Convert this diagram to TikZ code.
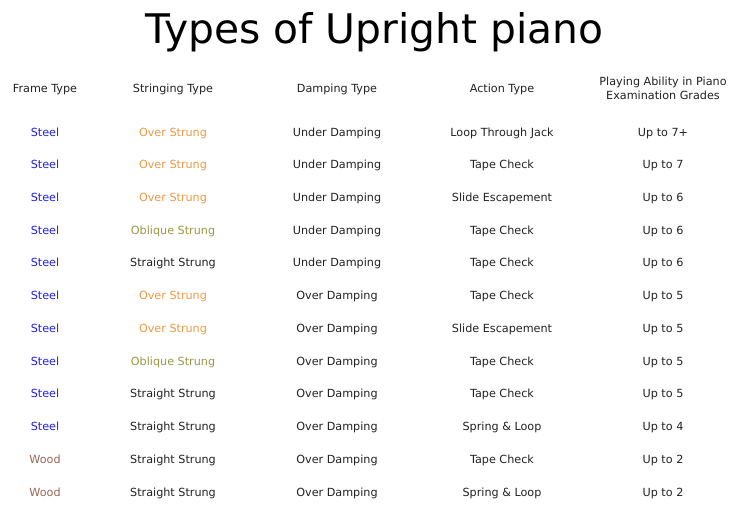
\documentclass[tikz,border=0pt]{standalone}
\usepackage{fontspec}
\setmainfont{DejaVu Sans}
\begin{document}
\begin{tikzpicture}[x=1pt,y=-1pt,
  cell/.style={inner sep=0pt,anchor=base,font=\fontsize{11.2}{14}\selectfont,text=txt,align=center},
  hdr/.style={cell},
  steel/.style={cell,text=steelc},
  wood/.style={cell,text=woodc},
  over/.style={cell,text=overc},
  obl/.style={cell,text=oblc}]
\definecolor{txt}{HTML}{222222}
\definecolor{steelc}{HTML}{2020F0}
\definecolor{woodc}{HTML}{996655}
\definecolor{overc}{HTML}{EE9944}
\definecolor{oblc}{HTML}{999944}
\useasboundingbox[fill=white] (0,0) rectangle (749,517);
\node[inner sep=0pt,anchor=base,font=\fontsize{40.8}{48}\selectfont] (title) at (374.5,43) {Types of Upright piano};
\node[hdr] (h1) at (45,92) {Frame Type};
\node[hdr] (h2) at (173,92) {Stringing Type};
\node[hdr] (h3) at (337,92) {Damping Type};
\node[hdr] (h4) at (502,92) {Action Type};
\node[hdr,anchor=north] (h5) at (663,77) {Playing Ability in Piano\\Examination Grades};
\foreach \i/\fs/\f/\ss/\s/\d/\a/\p in {
 1/steel/Steel/over/Over Strung/Under Damping/Loop Through Jack/Up to 7+,
 2/steel/Steel/over/Over Strung/Under Damping/Tape Check/Up to 7,
 3/steel/Steel/over/Over Strung/Under Damping/Slide Escapement/Up to 6,
 4/steel/Steel/obl/Oblique Strung/Under Damping/Tape Check/Up to 6,
 5/steel/Steel/cell/Straight Strung/Under Damping/Tape Check/Up to 6,
 6/steel/Steel/over/Over Strung/Over Damping/Tape Check/Up to 5,
 7/steel/Steel/over/Over Strung/Over Damping/Slide Escapement/Up to 5,
 8/steel/Steel/obl/Oblique Strung/Over Damping/Tape Check/Up to 5,
 9/steel/Steel/cell/Straight Strung/Over Damping/Tape Check/Up to 5,
 10/steel/Steel/cell/Straight Strung/Over Damping/Spring \& Loop/Up to 4,
 11/wood/Wood/cell/Straight Strung/Over Damping/Tape Check/Up to 2,
 12/wood/Wood/cell/Straight Strung/Over Damping/Spring \& Loop/Up to 2}{
  \pgfmathsetmacro{\yy}{136+(\i-1)*32.73}
  \node[\fs] (f\i) at (45,\yy) {\f};
  \node[\ss] (s\i) at (173,\yy) {\s};
  \node[cell] (d\i) at (337,\yy) {\d};
  \node[cell] (a\i) at (502,\yy) {\a};
  \node[cell] (p\i) at (663,\yy) {\p};
}
\end{tikzpicture}
\end{document}
